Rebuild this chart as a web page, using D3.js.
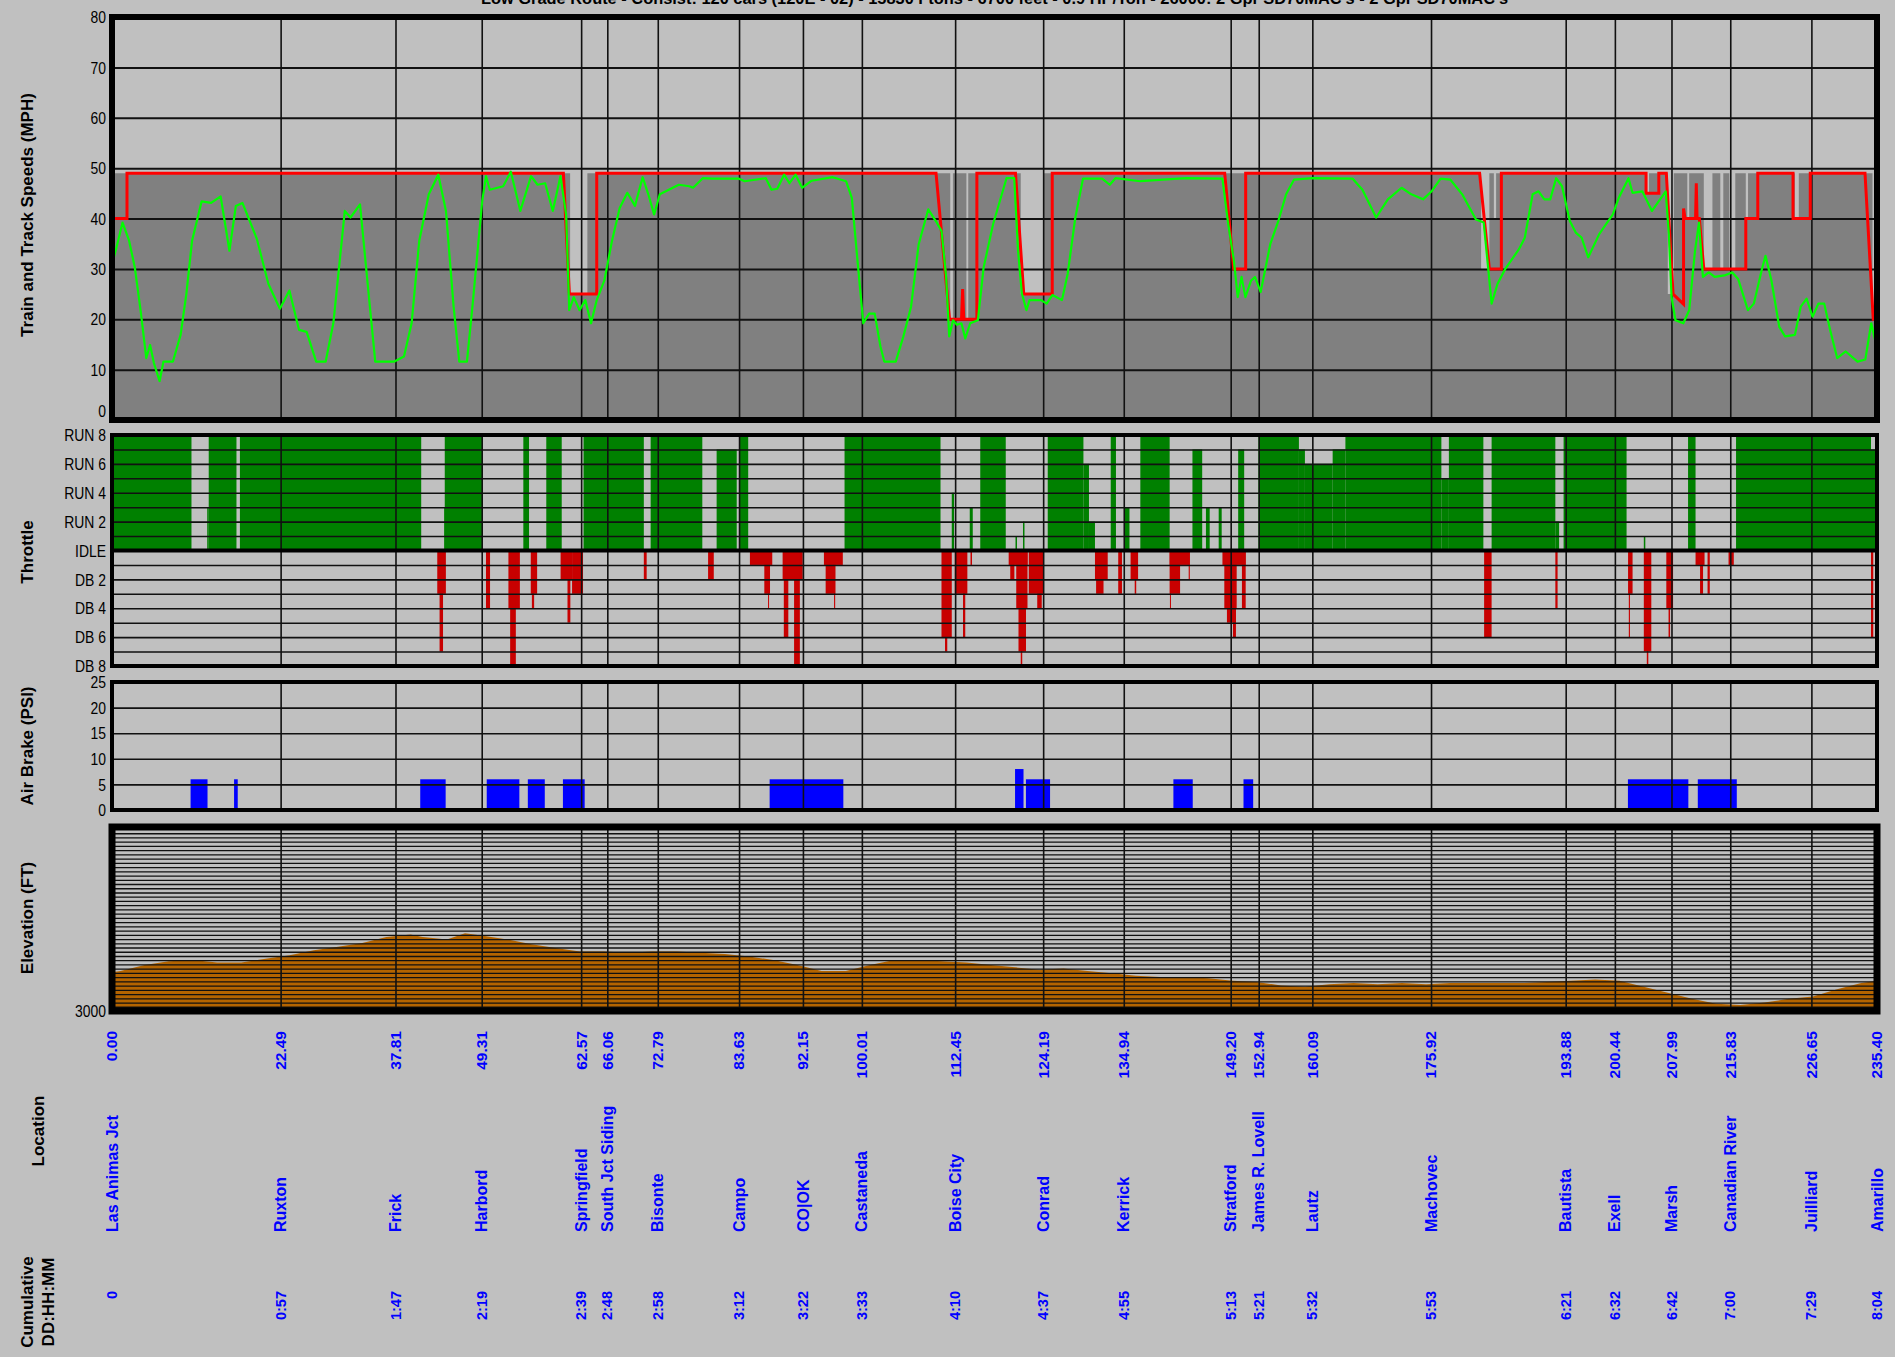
<!DOCTYPE html>
<html>
<head>
<meta charset="utf-8">
<script src="https://cdn.jsdelivr.net/npm/d3@7"></script>
<style>
  body { margin: 0; background: #c0c0c0; overflow: hidden; }
  svg { display: block; }
  .tick-lbl { font-family: "Liberation Sans Narrow", "Arial Narrow", "Liberation Sans", Arial, sans-serif; font-size: 17px; fill: #000; }
  .title { font-family: "Liberation Sans", Arial, sans-serif; font-weight: bold; font-size: 17px; fill: #000; }
  .blue { font-family: "Liberation Sans", Arial, sans-serif; font-weight: bold; fill: #0000ff; }
</style>
</head>
<body>
<svg id="chart" width="1895" height="1357"></svg>
<script>
// ---- data ----
var locMiles = [0.00, 22.49, 37.81, 49.31, 62.57, 66.06, 72.79, 83.63, 92.15, 100.01, 112.45, 124.19,
  134.94, 149.20, 152.94, 160.09, 175.92, 193.88, 200.44, 207.99, 215.83, 226.65, 235.40]
var locNames = ['Las Animas Jct', 'Ruxton', 'Frick', 'Harbord', 'Springfield', 'South Jct Siding', 'Bisonte',
  'Campo', 'CO|OK', 'Castaneda', 'Boise City', 'Conrad', 'Kerrick', 'Stratford', 'James R. Lovell', 'Lautz',
  'Machovec', 'Bautista', 'Exell', 'Marsh', 'Canadian River', 'Juilliard', 'Amarillo']
var locTimes = ['0', '0:57', '1:47', '2:19', '2:39', '2:48', '2:58', '3:12', '3:22', '3:33', '4:10', '4:37',
  '4:55', '5:13', '5:21', '5:32', '5:53', '6:21', '6:32', '6:42', '7:00', '7:29', '8:04']

var speedTicks = [0, 10, 20, 30, 40, 50, 60, 70, 80]
var throttleTicks = [8, 6, 4, 2, 0, -2, -4, -6, -8]
var throttleTickNames = ['RUN 8', 'RUN 6', 'RUN 4', 'RUN 2', 'IDLE', 'DB 2', 'DB 4', 'DB 6', 'DB 8']
var airTicks = [0, 5, 10, 15, 20, 25]

// track speed (step: speed from this mile on)
var trackSpeed = [[0, 49], [61.1, 25], [63.4, 49], [111.8, 20], [112.15, 49], [113.95, 20], [114.2, 49],
  [121.2, 25], [124.2, 49], [182.6, 30], [183.7, 49], [184.3, 40], [184.6, 49], [204.6, 45], [205.0, 49],
  [207.5, 25], [208.3, 49], [210.1, 40], [210.35, 49], [212.3, 30], [213.45, 49], [214.5, 30], [214.9, 49],
  [215.7, 30], [216.5, 49], [217.9, 40], [218.2, 49], [224.45, 40], [224.97, 49], [234.8, 20], [235.4, 20]]

// authorised speed limit (red)
var speedLimit = [[0, 40], [2.0, 40], [2.0, 49], [60.2, 49], [61.0, 25], [64.65, 25], [64.65, 49],
  [109.9, 49], [111.7, 20], [113.3, 20], [113.45, 26], [113.6, 20], [115.35, 20], [115.35, 49], [120.5, 49],
  [121.6, 25], [125.4, 25], [125.4, 49], [148.4, 49], [149.6, 30], [151.2, 30], [151.2, 49], [182.4, 49],
  [183.7, 30], [185.3, 30], [185.3, 49], [204.6, 49], [204.6, 45], [206.3, 45], [206.3, 49], [207.3, 49],
  [208.2, 25], [209.6, 23], [209.6, 42], [209.8, 40], [211.2, 40], [211.3, 47], [211.4, 40], [211.7, 40],
  [212.3, 30], [217.9, 30], [217.9, 40], [219.5, 40], [219.5, 49], [224.2, 49], [224.2, 40], [226.5, 40],
  [226.5, 49], [233.8, 49], [234.9, 20], [235.4, 20]]

// train speed (green)
var trainSpeed = [[0, 31], [0.49, 33.6], [1.41, 39.2], [2.28, 35.6], [3.04, 30.3], [3.81, 21.8], [4.57, 12.3],
  [5.08, 14.9], [5.59, 11.3], [6.35, 7.7], [6.86, 11.6], [8.13, 11.6], [9.15, 16.9], [9.92, 25.1], [10.68, 35.6],
  [11.95, 43.4], [13.22, 43.1], [14.49, 44.4], [15.66, 33.6], [16.52, 42.5], [17.4, 43.1], [19.33, 35.9],
  [20.86, 27.0], [22.39, 22.1], [23.66, 25.7], [24.94, 17.9], [25.96, 17.5], [27.23, 11.6], [28.5, 11.6],
  [29.52, 19.2], [31.05, 41.5], [31.81, 40.2], [33.08, 42.8], [34.1, 27.0], [35.11, 11.6], [37.66, 11.6],
  [38.94, 12.6], [39.96, 19.2], [40.98, 35.6], [42.25, 44.8], [43.52, 48.7], [44.54, 41.5], [45.56, 22.5],
  [46.32, 11.6], [47.34, 11.6], [48.11, 23.1], [49.37, 43.4], [49.88, 48.4], [50.39, 45.7], [52.17, 46.4],
  [53.19, 49.3], [54.46, 41.5], [55.89, 48.4], [56.75, 46.7], [57.77, 47.0], [58.79, 41.5], [59.81, 48.4],
  [60.57, 40.8], [60.98, 21.8], [61.59, 24.4], [62.36, 21.8], [63.12, 23.8], [63.89, 19.2], [64.65, 23.8],
  [65.67, 27.7], [66.69, 35.6], [67.71, 42.1], [68.73, 45.1], [69.75, 42.5], [70.77, 48.2], [71.53, 44.8],
  [72.3, 40.8], [73.06, 44.8], [75.6, 46.7], [77.0, 46.4], [77.5, 46.1], [78.79, 48.0], [80.06, 47.9],
  [83.63, 47.9], [84.39, 47.4], [87.2, 48.0], [87.96, 45.7], [88.73, 45.9], [89.64, 48.7], [90.36, 47.0],
  [91.17, 48.7], [92.04, 46.1], [93.31, 47.5], [96.12, 48.2], [97.9, 47.4], [98.67, 44.1], [99.43, 31.6],
  [100.2, 19.2], [100.96, 21.1], [101.72, 21.1], [102.49, 14.6], [103.0, 11.6], [104.53, 11.6], [105.55, 16.6],
  [106.57, 22.5], [107.59, 34.9], [108.86, 41.8], [109.88, 39.5], [110.64, 37.5], [111.25, 28.4], [111.66, 16.6],
  [112.17, 19.8], [112.68, 18.9], [113.29, 19.2], [113.8, 16.2], [114.46, 19.2], [115.48, 19.8], [116.25, 30.3],
  [117.52, 38.9], [119.3, 48.0], [120.33, 48.0], [120.84, 33.6], [121.35, 25.1], [121.96, 21.8], [122.37, 23.8],
  [123.89, 23.8], [124.66, 23.1], [125.42, 24.8], [126.7, 23.8], [127.46, 29.0], [128.48, 40.2], [129.5, 47.9],
  [132.05, 47.9], [133.07, 46.7], [133.83, 48.0], [137.15, 47.4], [140.2, 47.7], [143.26, 48.0], [148.1, 47.9],
  [148.87, 38.9], [149.63, 31.6], [150.14, 24.4], [150.65, 28.4], [151.16, 24.4], [151.93, 27.7], [152.44, 28.4],
  [153.2, 25.4], [154.48, 34.9], [155.55, 39.5], [156.59, 44.8], [157.64, 47.7], [160.09, 48.0], [165.47, 47.9],
  [166.77, 45.7], [168.6, 40.2], [170.16, 43.8], [171.99, 46.1], [173.29, 44.8], [174.86, 43.8], [176.0, 45.4],
  [177.2, 47.9], [178.51, 47.7], [180.08, 44.8], [181.91, 39.8], [182.95, 39.2], [184.0, 23.1], [184.78, 27.0],
  [185.82, 30.0], [187.65, 33.9], [188.43, 36.2], [189.47, 44.8], [190.26, 45.4], [191.04, 43.8], [191.82, 43.8],
  [192.6, 48.0], [193.39, 46.4], [194.43, 39.5], [195.22, 37.2], [196.0, 36.2], [196.89, 32.3], [198.35, 36.9],
  [200.17, 40.8], [200.96, 44.1], [202.26, 48.0], [202.79, 45.1], [204.1, 45.4], [205.39, 41.5], [207.22, 45.4],
  [207.64, 36.9], [208.0, 24.4], [208.52, 19.8], [209.57, 19.2], [210.35, 21.8], [211.13, 33.6], [211.66, 39.2],
  [212.18, 28.4], [212.96, 29.3], [213.75, 28.4], [215.05, 28.7], [216.1, 29.3], [216.88, 28.0], [218.18, 21.8],
  [218.97, 23.1], [220.01, 29.7], [220.53, 32.6], [221.32, 27.7], [222.36, 18.5], [223.14, 16.6], [224.45, 16.9],
  [225.23, 22.5], [226.01, 24.1], [226.8, 20.5], [227.58, 23.1], [228.36, 23.1], [229.14, 17.9], [230.09, 12.3],
  [231.23, 13.6], [232.8, 11.6], [233.84, 12.0], [234.63, 19.2], [235.15, 15.9], [235.4, 17]]

// throttle notch segments [from mile, to mile, notch] (+ run, - dynamic brake)
var throttleRun = [[0, 10.6, 8], [12.7, 12.9, 3], [12.9, 16.6, 8], [17.06, 41.24, 8], [44.3, 44.4, 3],
  [44.38, 49.43, 8], [54.86, 55.62, 8], [57.92, 59.98, 8], [62.89, 70.93, 8], [71.84, 78.73, 8],
  [80.64, 83.32, 7], [83.63, 84.85, 8], [97.7, 110.5, 8], [112.0, 112.3, 4], [114.4, 114.8, 3],
  [115.8, 119.2, 8], [120.5, 120.7, 1], [121.5, 121.7, 2], [124.8, 129.56, 8], [129.56, 130.3, 6],
  [130.3, 131.1, 2], [133.2, 133.9, 8], [135.0, 135.7, 3], [137.15, 141.06, 8], [144.1, 145.4, 7],
  [145.9, 146.4, 3], [147.6, 148.0, 3], [150.2, 151.0, 7], [152.9, 158.3, 8], [158.3, 159.1, 7],
  [159.1, 162.8, 6], [162.8, 164.5, 7], [164.5, 177.3, 8], [177.3, 178.3, 5], [178.3, 182.9, 8],
  [184.0, 192.5, 8], [192.5, 193.0, 2], [193.6, 202.0, 8], [204.3, 204.5, 1], [210.2, 211.2, 8],
  [216.6, 234.6, 8], [234.6, 235.4, 7]]
var throttleBrake = [[43.38, 44.53, -3], [43.69, 44.15, -7], [49.88, 50.42, -4], [52.87, 54.4, -4],
  [53.1, 53.86, -8], [55.85, 56.7, -3], [56.0, 56.3, -4], [59.83, 61.36, -2], [60.75, 61.13, -5],
  [61.36, 62.82, -3], [70.93, 71.31, -2], [79.5, 80.26, -2], [85.08, 88.06, -1], [87.0, 87.76, -3],
  [87.5, 87.6, -4], [89.44, 92.12, -2], [89.6, 90.2, -6], [90.97, 91.74, -8], [94.95, 97.47, -1],
  [95.18, 96.48, -3], [96.3, 96.45, -4], [110.63, 112.0, -6], [111.1, 111.4, -7], [112.4, 114.08, -3],
  [113.5, 113.8, -6], [114.5, 114.7, -1], [119.59, 122.12, -1], [119.8, 120.35, -2], [120.6, 122.1, -4],
  [120.9, 121.9, -7], [121.2, 121.4, -8], [122.27, 124.19, -3], [123.4, 124.0, -4], [131.1, 132.8, -2],
  [131.25, 132.24, -3], [134.2, 134.7, -3], [135.85, 136.85, -2], [136.4, 136.6, -3], [141.06, 143.75, -1],
  [141.06, 142.45, -3], [141.1, 141.2, -4], [143.6, 143.75, -2], [148.1, 151.2, -1], [148.35, 150.0, -4],
  [148.7, 149.9, -5], [149.5, 149.9, -6], [150.7, 151.2, -4], [183.0, 184.0, -6], [192.5, 192.8, -4],
  [202.2, 202.8, -3], [202.3, 202.45, -6], [204.3, 205.3, -7], [204.7, 204.9, -8], [207.3, 208.2, -4],
  [207.6, 207.8, -6], [211.2, 212.4, -1], [211.8, 212.2, -3], [212.8, 213.1, -3], [215.6, 216.3, -1],
  [215.8, 215.9, -2], [234.6, 234.9, -6]]

// air brake applications [from mile, to mile, psi]
var airBrake = [[10.48, 12.74, 6], [16.28, 16.77, 6], [41.11, 44.5, 6], [49.98, 54.33, 6], [55.46, 57.72, 6],
  [60.14, 63.04, 6], [87.71, 97.54, 6], [120.44, 121.57, 8], [121.89, 125.11, 6], [141.56, 144.14, 6],
  [150.91, 152.2, 6], [202.18, 210.24, 6], [211.5, 216.7, 6]]

// elevation profile [mile, feet]
var elevation = [[0, 3917], [1.13, 3946], [4.35, 4089], [7.58, 4175], [10.8, 4204], [14.03, 4147], [17.25, 4147],
  [20.48, 4233], [23.7, 4319], [26.93, 4434], [30.15, 4520], [33.38, 4606], [36.6, 4749], [39.82, 4806],
  [41.44, 4749], [44.66, 4692], [47.08, 4835], [49.5, 4778], [52.72, 4692], [55.95, 4577], [59.17, 4491],
  [62.4, 4405], [65.62, 4405], [68.85, 4376], [72.07, 4405], [75.29, 4405], [78.52, 4376], [81.74, 4347],
  [84.97, 4290], [88.19, 4204], [91.42, 4089], [94.64, 3946], [97.87, 3946], [101.09, 4089], [104.32, 4204],
  [107.54, 4204], [110.76, 4175], [113.99, 4147], [117.21, 4089], [120.44, 4032], [123.66, 3975], [126.89, 4003],
  [130.11, 3946], [133.34, 3889], [136.56, 3831], [139.79, 3803], [143.01, 3803], [146.24, 3774], [149.46, 3717],
  [152.68, 3688], [155.91, 3602], [159.13, 3573], [162.36, 3631], [165.58, 3659], [168.81, 3631], [172.03, 3659],
  [175.26, 3631], [178.48, 3659], [181.71, 3659], [184.93, 3659], [188.15, 3659], [191.38, 3688], [194.6, 3717],
  [197.83, 3745], [201.05, 3717], [204.28, 3573], [207.5, 3430], [210.73, 3287], [213.95, 3172], [217.18, 3143],
  [220.4, 3201], [223.63, 3287], [226.85, 3344], [230.07, 3516], [233.3, 3659], [235.4, 3717]]

var titleText = "Low Grade Route - Consist: 120 cars (120E - 02) - 15830 Ftons - 6700 feet - 0.9 HP/Ton - 26000: 2 Gpr SD70MAC's - 2 Gpr SD70MAC's"

// ---- drawing ----
var svg = d3.select('#chart')
var L = 112, R = 1877
var x = d3.scaleLinear().domain([0, 235.4]).range([L, R])
var ySpeed = d3.scaleLinear().domain([0, 80]).range([420, 17])
var yThr = d3.scaleLinear().domain([-8, 8]).range([666, 435])
var yAir = d3.scaleLinear().domain([0, 25]).range([810, 682])
var yElev = d3.scaleLinear().domain([3000, 7300]).range([1011, 829])

function hGrid (g, y, values, width) {
  g.append('g')
    .attr('transform', 'translate(' + L + ',0)')
    .call(d3.axisLeft(y).tickValues(values).tickSize(-(R - L)).tickFormat(''))
    .call(function (a) { a.select('.domain').remove() })
    .selectAll('line').attr('stroke', '#111').attr('stroke-width', width)
}
function vGrid (g, y0, y1, width) {
  g.append('g')
    .attr('transform', 'translate(0,' + y0 + ')')
    .call(d3.axisBottom(x).tickValues(locMiles).tickSize(y1 - y0).tickFormat(''))
    .call(function (a) { a.select('.domain').remove() })
    .selectAll('line').attr('stroke', '#111').attr('stroke-width', width)
}
// narrow tick labels: regular font squeezed horizontally
function tickLabels (y, values, fmt, shift) {
  svg.append('g').selectAll('text').data(values).enter().append('text')
    .attr('class', 'tick-lbl')
    .attr('transform', function (d) {
      return 'translate(106,' + (y(d) + (shift ? shift(d) : 0)) + ') scale(0.82,1)'
    })
    .attr('dy', '0.36em')
    .attr('text-anchor', 'end')
    .text(fmt)
}
function border (y0, y1, w) {
  svg.append('rect').attr('x', L).attr('y', y0).attr('width', R - L).attr('height', y1 - y0)
    .attr('fill', 'none').attr('stroke', '#000').attr('stroke-width', w)
}
function vTitle (cx, cy, txt) {
  svg.append('text').attr('class', 'title')
    .attr('transform', 'translate(' + cx + ',' + cy + ') rotate(-90)')
    .attr('text-anchor', 'middle').attr('dominant-baseline', 'central')
    .text(txt)
}

// title (cut off at top edge, as in the original)
svg.append('text').attr('class', 'tick-lbl')
  .attr('x', 481).attr('y', 4)
  .attr('textLength', 1027).attr('lengthAdjust', 'spacingAndGlyphs')
  .style('font-weight', 'bold')
  .text(titleText)

// speed panel
var gS = svg.append('g')
gS.append('path')
  .datum(trackSpeed)
  .attr('fill', '#808080')
  .attr('d', d3.area().curve(d3.curveStepAfter)
    .x(function (d) { return x(d[0]) })
    .y0(ySpeed(0))
    .y1(function (d) { return ySpeed(d[1]) }))
hGrid(gS, ySpeed, speedTicks, 2)
vGrid(gS, ySpeed(80), ySpeed(0), 1.6)
gS.append('path').datum(speedLimit)
  .attr('fill', 'none').attr('stroke', '#ff0000').attr('stroke-width', 3)
  .attr('d', d3.line().x(function (d) { return x(d[0]) }).y(function (d) { return ySpeed(d[1]) }))
gS.append('path').datum(trainSpeed)
  .attr('fill', 'none').attr('stroke', '#00ff00').attr('stroke-width', 2.2)
  .attr('stroke-linejoin', 'round')
  .attr('d', d3.line().x(function (d) { return x(d[0]) }).y(function (d) { return ySpeed(d[1]) }))
border(ySpeed(80), ySpeed(0), 6)
tickLabels(ySpeed, speedTicks, function (d) { return d }, function (d) { return d === 0 ? -9 : 0 })

// throttle panel
var gT = svg.append('g')
gT.selectAll('.run').data(throttleRun).enter().append('rect')
  .attr('x', function (d) { return x(d[0]) })
  .attr('width', function (d) { return Math.max(1, x(d[1]) - x(d[0])) })
  .attr('y', function (d) { return yThr(d[2]) })
  .attr('height', function (d) { return yThr(0) - yThr(d[2]) })
  .attr('fill', '#008000')
gT.selectAll('.db').data(throttleBrake).enter().append('rect')
  .attr('x', function (d) { return x(d[0]) })
  .attr('width', function (d) { return Math.max(1, x(d[1]) - x(d[0])) })
  .attr('y', yThr(0))
  .attr('height', function (d) { return yThr(d[2]) - yThr(0) })
  .attr('fill', '#c80000')
hGrid(gT, yThr, d3.range(-8, 9), 1.6)
vGrid(gT, yThr(8), yThr(-8), 1.6)
gT.append('line').attr('x1', L).attr('x2', R).attr('y1', yThr(0)).attr('y2', yThr(0))
  .attr('stroke', '#000').attr('stroke-width', 4)
border(yThr(8), yThr(-8), 4)
tickLabels(yThr, throttleTicks, function (d, i) { return throttleTickNames[i] })

// air brake panel
var gA = svg.append('g')
gA.selectAll('rect').data(airBrake).enter().append('rect')
  .attr('x', function (d) { return x(d[0]) })
  .attr('width', function (d) { return Math.max(2, x(d[1]) - x(d[0])) })
  .attr('y', function (d) { return yAir(d[2]) })
  .attr('height', function (d) { return yAir(0) - yAir(d[2]) })
  .attr('fill', '#0000ff')
hGrid(gA, yAir, airTicks, 1.6)
vGrid(gA, yAir(25), yAir(0), 1.6)
border(yAir(25), yAir(0), 4)
tickLabels(yAir, airTicks, function (d) { return d })

// elevation panel
var gE = svg.append('g')
gE.append('path').datum(elevation)
  .attr('fill', '#b46400')
  .attr('d', d3.area()
    .x(function (d) { return x(d[0]) })
    .y0(yElev(3000))
    .y1(function (d) { return yElev(d[1]) }))
hGrid(gE, yElev, d3.range(3100, 7300, 100), 1.3)
vGrid(gE, yElev(7300), yElev(3000), 1.6)
border(yElev(7300) - 2, yElev(3000), 7)
tickLabels(yElev, [3000], function (d) { return d })

// location axis labels
var gL = svg.append('g')
gL.selectAll('.mile').data(locMiles).enter().append('text')
  .attr('class', 'blue').style('font-size', '15.5px')
  .attr('transform', function (d) { return 'translate(' + x(d) + ',1031) rotate(-90)' })
  .attr('text-anchor', 'end').attr('dy', '0.35em')
  .text(function (d) { return d.toFixed(2) })
gL.selectAll('.name').data(locNames).enter().append('text')
  .attr('class', 'blue').style('font-size', '16px')
  .attr('transform', function (d, i) { return 'translate(' + x(locMiles[i]) + ',1232) rotate(-90)' })
  .attr('text-anchor', 'start').attr('dy', '0.35em')
  .text(function (d) { return d })
gL.selectAll('.time').data(locTimes).enter().append('text')
  .attr('class', 'blue').style('font-size', '14.5px')
  .attr('transform', function (d, i) { return 'translate(' + x(locMiles[i]) + ',1291) rotate(-90)' })
  .attr('text-anchor', 'end').attr('dy', '0.35em')
  .text(function (d) { return d })

// panel titles
vTitle(27, 215, 'Train and Track Speeds (MPH)')
vTitle(27, 552, 'Throttle')
vTitle(27, 746, 'Air Brake (PSI)')
vTitle(27, 918, 'Elevation (FT)')
vTitle(38, 1131, 'Location')
vTitle(27, 1302, 'Cumulative')
vTitle(48, 1302, 'DD:HH:MM')
</script>
</body>
</html>
